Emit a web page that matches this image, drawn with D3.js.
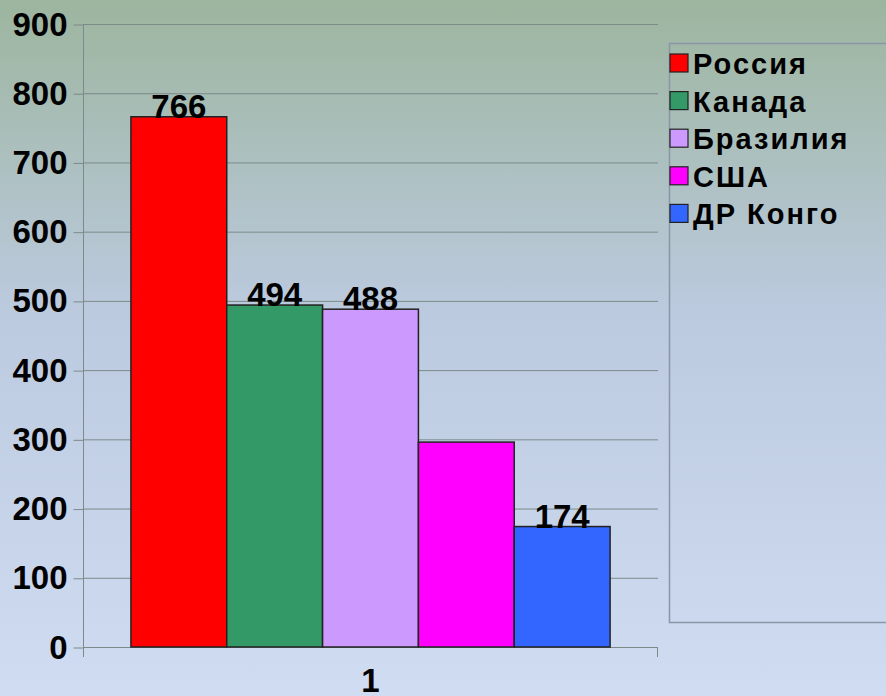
<!DOCTYPE html>
<html>
<head>
<meta charset="utf-8">
<script src="https://cdn.jsdelivr.net/npm/d3@7"></script>
<style>
  body { margin: 0; }
  svg text { font-family: "Liberation Sans", Arial, sans-serif; font-weight: bold; fill: #000; }
</style>
</head>
<body>
<div id="chart"></div>
<script>
const categories = ["1"];
const series = ["Россия", "Канада", "Бразилия", "США", "ДР Конго"];
const values = [766, 494, 488, 296, 174];
const showLabel = [true, true, true, false, true];
const colors = ["#ff0000", "#339966", "#cc99ff", "#ff00ff", "#3366ff"];
const yTicks = [0, 100, 200, 300, 400, 500, 600, 700, 800, 900];

const W = 886, H = 696;
const plot = { left: 83, right: 658, top: 24, bottom: 647 };

const svg = d3.select("#chart")
    .append("svg")
    .attr("width", W)
    .attr("height", H);

// background gradient
const grad = svg.append("defs").append("linearGradient")
    .attr("id", "bg")
    .attr("x1", 0).attr("y1", 0).attr("x2", 0).attr("y2", 1);
grad.append("stop").attr("offset", "0").attr("stop-color", "#9cb59e");
grad.append("stop").attr("offset", "0.45").attr("stop-color", "#bccadf");
grad.append("stop").attr("offset", "1").attr("stop-color", "#cfdcf2");
svg.append("rect").attr("width", W).attr("height", H).attr("fill", "url(#bg)");

const x0 = d3.scaleBand().domain(categories).range([plot.left, plot.right]);
const x1 = d3.scaleBand().domain(series).range([0, x0.bandwidth()]).paddingOuter(0.5);
const y = d3.scaleLinear().domain([0, 900]).range([plot.bottom, plot.top]);

// gridlines
svg.append("g")
    .selectAll("line")
    .data(yTicks)
    .enter()
    .append("line")
    .attr("x1", plot.left)
    .attr("x2", plot.right)
    .attr("y1", d => y(d) + 0.5)
    .attr("y2", d => y(d) + 0.5)
    .attr("stroke", "#7d8a8a")
    .attr("stroke-width", 1);

// y axis
const yAxis = svg.append("g")
    .attr("transform", `translate(${plot.left + 0.5}, 0.5)`)
    .call(d3.axisLeft(y).tickValues(yTicks).tickSize(10).tickPadding(6).tickFormat(d3.format("d")));
yAxis.select(".domain").remove();
yAxis.selectAll(".tick line").attr("stroke", "#7d8a8a");
yAxis.selectAll(".tick text")
    .style("font-size", "33px")
    .style("font-family", "'Liberation Sans', Arial, sans-serif")
    .style("font-weight", "bold")
    .attr("fill", "#000");

// axis lines
svg.append("line")
    .attr("x1", plot.left + 0.5).attr("x2", plot.left + 0.5)
    .attr("y1", plot.top).attr("y2", plot.bottom + 10)
    .attr("stroke", "#7d8a8a");
svg.append("line")
    .attr("x1", plot.right - 0.5).attr("x2", plot.right - 0.5)
    .attr("y1", plot.bottom).attr("y2", plot.bottom + 10)
    .attr("stroke", "#7d8a8a");

// x axis labels
const xAxis = svg.append("g")
    .attr("transform", `translate(0, ${plot.bottom})`)
    .call(d3.axisBottom(x0).tickSize(0).tickPadding(22));
xAxis.select(".domain").remove();
xAxis.selectAll(".tick text")
    .style("font-size", "33px")
    .style("font-family", "'Liberation Sans', Arial, sans-serif")
    .style("font-weight", "bold")
    .attr("fill", "#000");

// bars
const data = series.map((s, i) => ({ s, v: values[i], c: colors[i], lab: showLabel[i] }));
const group = svg.append("g").attr("transform", `translate(${x0(categories[0])}, 0)`);

group.selectAll("rect")
    .data(data)
    .enter()
    .append("rect")
    .attr("x", d => x1(d.s))
    .attr("y", d => y(d.v))
    .attr("width", x1.bandwidth())
    .attr("height", d => y(0) - y(d.v))
    .attr("fill", d => d.c)
    .attr("stroke", "#222")
    .attr("stroke-width", 1.5);

group.selectAll(".vlabel")
    .data(data.filter(d => d.lab))
    .enter()
    .append("text")
    .attr("class", "vlabel")
    .attr("x", d => x1(d.s) + x1.bandwidth() / 2)
    .attr("y", d => y(d.v) + 1)
    .attr("text-anchor", "middle")
    .style("font-size", "33px")
    .text(d => d.v);

// legend
const legend = svg.append("g");
legend.append("rect")
    .attr("x", 669.5).attr("y", 43.5)
    .attr("width", 240).attr("height", 579)
    .attr("fill", "none")
    .attr("stroke", "#8a95a5")
    .attr("stroke-width", 1.5);

const items = legend.selectAll(".legend-item")
    .data(data)
    .enter()
    .append("g")
    .attr("class", "legend-item")
    .attr("transform", (d, i) => `translate(670, ${63 + i * 37.6})`);

items.append("rect")
    .attr("x", 0).attr("y", -9)
    .attr("width", 18).attr("height", 18)
    .attr("fill", d => d.c)
    .attr("stroke", "#222")
    .attr("stroke-width", 1.2);

items.append("text")
    .attr("x", 23)
    .attr("y", 11)
    .style("font-size", "29px")
    .style("letter-spacing", "2px")
    .text(d => d.s);
</script>
</body>
</html>
